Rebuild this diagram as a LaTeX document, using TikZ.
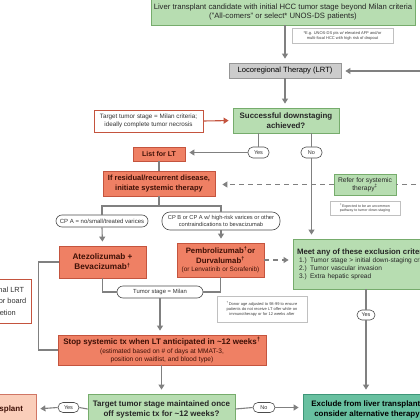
\documentclass[tikz,border=0pt]{standalone}
\usepackage{fontspec}
\setmainfont{Liberation Sans}
\usepackage{tikz}
\usetikzlibrary{arrows.meta}

\definecolor{boxgreen}{RGB}{183,221,177}
\definecolor{edgegreen}{RGB}{118,172,108}
\definecolor{boxsalmon}{RGB}{239,128,100}
\definecolor{edgesalmon}{RGB}{196,84,62}
\definecolor{boxgrey}{RGB}{204,204,204}
\definecolor{edgegrey}{RGB}{150,150,150}
\definecolor{boxteal}{RGB}{104,192,160}
\definecolor{edgeteal}{RGB}{62,150,120}
\definecolor{boxpeach}{RGB}{250,206,186}
\definecolor{linegrey}{RGB}{128,128,128}
\definecolor{textred}{RGB}{62,16,6}

\begin{document}
\begin{tikzpicture}[x=1pt,y=-1pt,
    box/.style={draw, line width=0.8pt, inner sep=0pt, align=center},
    greenbox/.style={box, fill=boxgreen, draw=edgegreen, text=black!85},
    salmonbox/.style={box, fill=boxsalmon, draw=edgesalmon, text=textred},
    notebox/.style={box, fill=white, draw=edgesalmon, text=black!80},
    footbox/.style={box, fill=white, draw=edgegrey!60, line width=0.5pt, text=black!75,
      font=\fontsize{4}{5}\selectfont},
    oval/.style={draw=black!70, fill=white, line width=0.6pt, rounded corners=5pt,
      inner sep=0pt, align=center, text=black!80, font=\fontsize{5.5}{6.5}\selectfont},
    arrow/.style={draw=linegrey, line width=1.1pt, -{Triangle[width=6pt,length=5pt]}, shorten >=4pt},
    link/.style={draw=linegrey, line width=1.1pt},
    dasharrow/.style={arrow, dash pattern=on 5pt off 4pt}
  ]
    \useasboundingbox (0,0) rectangle (420,420);
    \fill[white] (0,0) rectangle (420,420);
    \clip (0,0) rectangle (420,420);

    % The boxes down the middle
    \node[greenbox, minimum width=264, minimum height=26, font=\fontsize{7.7}{9.4}\selectfont]
      (cand) at (283,12) {Liver transplant candidate with initial HCC tumor stage beyond Milan criteria\\("All-comers" or select* UNOS-DS patients)};
    \node[footbox, minimum width=101, minimum height=15] (noteds) at (342.5,35.5)
      {*E.g. UNOS-DS pts w/ elevated AFP and/or\\multi-focal HCC with high risk of dropout};
    \node[box, fill=boxgrey, draw=edgegrey, minimum width=112, minimum height=15,
      font=\fontsize{7.6}{8}\selectfont] (lrt) at (285,70.5) {Locoregional Therapy (LRT)};
    \node[greenbox, minimum width=106, minimum height=25, font=\bfseries\fontsize{7.9}{10}\selectfont]
      (succ) at (286,120.5) {Successful downstaging\\achieved?};
    \node[notebox, minimum width=109, minimum height=22, font=\fontsize{6.3}{7.6}\selectfont]
      (goal) at (148.5,121) {Target tumor stage = Milan criteria;\\ideally complete tumor necrosis};
    \node[oval, minimum width=21, minimum height=11] (yesds) at (258.5,152.5) {Yes};
    \node[oval, minimum width=21, minimum height=11] (nods) at (311.5,152.5) {No};

    % The systemic therapy branch
    \node[salmonbox, minimum width=52, minimum height=14, font=\bfseries\fontsize{7}{8}\selectfont]
      (list) at (159,154) {List for LT};
    \node[salmonbox, minimum width=112, minimum height=25, font=\bfseries\fontsize{7.5}{10}\selectfont]
      (resid) at (159,183.5) {If residual/recurrent disease,\\initiate systemic therapy};
    \node[greenbox, minimum width=62, minimum height=21, font=\fontsize{6.7}{8}\selectfont]
      (refer) at (365,184.5) {Refer for systemic\\therapy\textsuperscript{‡}};
    \node[footbox, minimum width=70, minimum height=14, font=\fontsize{3.6}{4.8}\selectfont] (noteup) at (365,208)
      {\textsuperscript{‡}Expected to be an uncommon\\pathway to tumor down-staging};
    \coordinate (split) at (159,206);
    \node[oval, minimum width=92, minimum height=12, rounded corners=6pt, font=\fontsize{6}{7}\selectfont]
      (cpa) at (102,221) {CP A = no/small/treated varices};
    \node[oval, minimum width=118, minimum height=18, rounded corners=8pt, font=\fontsize{5.7}{7}\selectfont]
      (cpb) at (221,221) {CP B or CP A w/ high-risk varices or other\\contraindications to bevacizumab};
    \node[salmonbox, minimum width=87, minimum height=32, font=\bfseries\fontsize{8.2}{10}\selectfont]
      (atezo) at (102.5,262) {Atezolizumab +\\Bevacizumab\textsuperscript{†}};
    \node[salmonbox, minimum width=87, minimum height=34, font=\bfseries\fontsize{7.8}{9.8}\selectfont]
      (pembro) at (220.5,260) {Pembrolizumab\textsuperscript{†}or\\Durvalumab\textsuperscript{†}\\[-1.5pt]
      {\mdseries\fontsize{6.4}{7}\selectfont (or Lenvatinib or Sorafenib)}};
    \node[oval, minimum width=86, minimum height=12, rounded corners=6pt, font=\fontsize{5.9}{6.5}\selectfont]
      (milan) at (160,292) {Tumor stage = Milan};
    \node[notebox, minimum width=63, minimum height=44, font=\fontsize{7.4}{11.5}\selectfont]
      (extra) at (0,301) {Additional LRT\\per tumor board\\discretion};
    \node[footbox, minimum width=90, minimum height=26] (notedonor) at (262,309)
      {\textsuperscript{†}Donor age adjusted to 98-99 to ensure\\patients do not receive LT offer while on\\immunotherapy or for 12 weeks after};
    \node[salmonbox, minimum width=208, minimum height=30, font=\fontsize{6.6}{9}\selectfont]
      (stop) at (162,350) {{\bfseries\fontsize{8}{9}\selectfont Stop systemic tx when LT anticipated in \textasciitilde 12 weeks\textsuperscript{†}}\\
      (estimated based on \# of days at MMAT-3,\\[-1pt] position on waitlist, and blood type)};
    \node[greenbox, minimum width=147, minimum height=30, font=\bfseries\fontsize{8}{10}\selectfont]
      (kept) at (161.5,409) {Target tumor stage maintained once\\off systemic tx for \textasciitilde 12 weeks?};
    \node[oval, minimum width=21, minimum height=10] (yeslt) at (68.5,407.5) {Yes};
    \node[oval, minimum width=22, minimum height=10] (nolt) at (264,407.5) {No};
    \node[box, fill=boxpeach, draw=edgesalmon!80, minimum width=86, minimum height=30, text=textred,
      font=\bfseries\fontsize{8}{9}\selectfont] (lt) at (-7,409) {Liver transplant};

    % The exclusion branch
    \node[greenbox, minimum height=50, text width=140, inner sep=4pt, align=left,
      font=\fontsize{6.6}{8}\selectfont] (meet) at (367,264)
      {{\bfseries\fontsize{7.8}{9.5}\selectfont Meet any of these exclusion criteria?}\\
      \hspace*{2pt}1.) Tumor stage > initial down-staging criteria\\
      \hspace*{2pt}2.) Tumor vascular invasion\\
      \hspace*{2pt}3.) Extra hepatic spread};
    \node[oval, minimum width=18, minimum height=10] (yesex) at (366,315) {Yes};
    \node[box, fill=boxteal, draw=edgeteal, minimum width=128, minimum height=30,
      font=\bfseries\fontsize{7.9}{10}\selectfont] (excl) at (367,409)
      {Exclude from liver transplant,\\consider alternative therapy};

    % Off-picture ends
    \coordinate (offlrt) at (425,71);
    \coordinate (offrefer) at (425,184.5);

    % The connectors
    \draw[arrow] (cand.south -| lrt.north) -- (lrt.north);
    \draw[arrow] (offlrt) -- (offlrt -| lrt.east);
    \draw[arrow] (lrt.south) -- (lrt.south |- succ.north);
    \draw[arrow, draw=edgesalmon] (goal.east) -- (succ.west);
    \draw[link] (yesds.north |- succ.south) -- (yesds.north);
    \draw[arrow] (yesds.west) -- (yesds.west -| list.east);
    \draw[link] (nods.north |- succ.south) -- (nods.north);
    \draw[arrow] (nods.south) -- (nods.south |- meet.north);
    \draw[link] (list.south) -- (resid.north);
    \draw[link, dash pattern=on 5pt off 4pt] (offrefer) -- (refer.east);
    \draw[dasharrow, shorten >=7pt] (refer.west) -- (refer.west -| resid.east);
    \draw[link] (resid.south) -- (split);
    \draw[link] (split) -| (cpa.north);
    \draw[link] (split) -| (cpb.north);
    \draw[arrow] (cpa.south) -- (atezo.north);
    \draw[arrow] (cpb.south) -- (cpb.south |- pembro.north);
    \draw[dasharrow] (pembro.east) -- (pembro.east -| meet.west);
    \draw[link] (atezo.south) |- (milan.west);
    \draw[link] (pembro.south) |- (milan.east);
    \draw[arrow] (milan.south) -- (milan.south |- stop.north);
    \draw[link] (atezo.west) -- ++(-20,0) |- (stop.west);
    \draw[arrow] (stop.south -| kept.north) -- (kept.north);
    \draw[link] (kept.west) -- (yeslt.east);
    \draw[arrow] (yeslt.west) -- (lt.east);
    \draw[link] (kept.east) -- (nolt.west);
    \draw[arrow] (nolt.east) -- (nolt.east -| excl.west);
    \draw[link] (meet.south -| yesex.north) -- (yesex.north);
    \draw[arrow] (yesex.south) -- (yesex.south |- excl.north);
\end{tikzpicture}
\end{document}
